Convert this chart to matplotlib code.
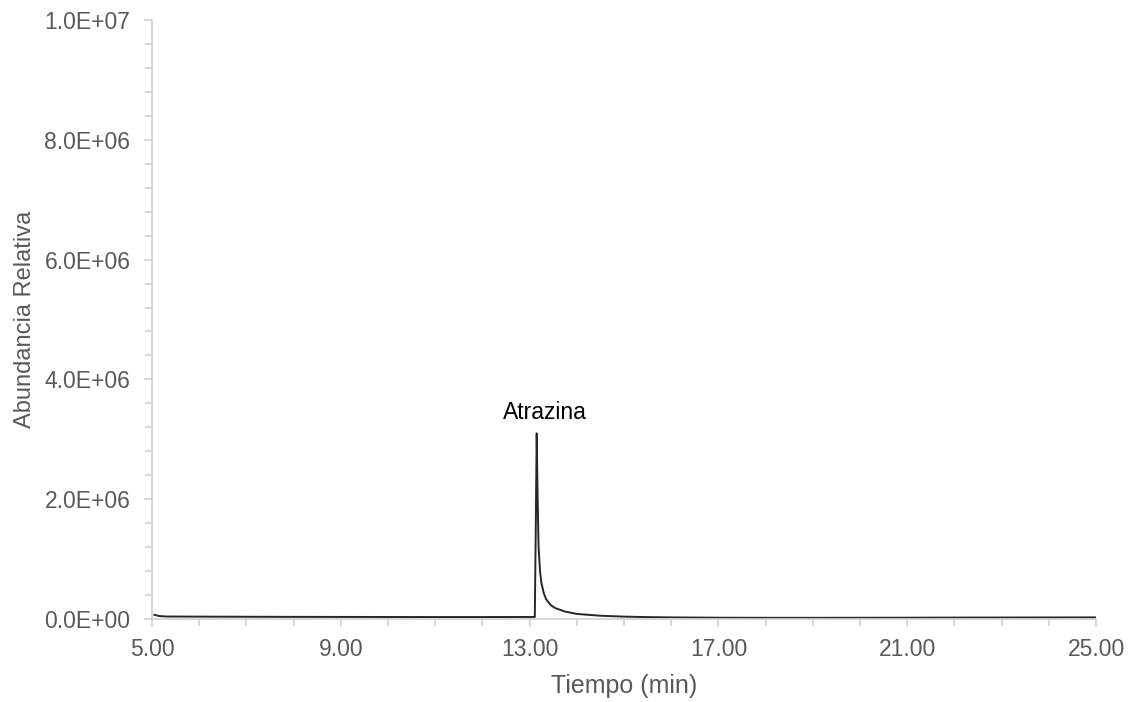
import matplotlib
matplotlib.use("Agg")
import matplotlib.pyplot as plt
from matplotlib.ticker import FixedLocator, MultipleLocator, FuncFormatter

# chromatogram trace (time in min, abundance)
tiempo = [5.05, 5.15, 5.3, 6.0, 7.0, 8.0, 9.0, 10.0, 11.0, 12.0, 12.9,
          13.11, 13.13, 13.15, 13.17, 13.19, 13.22, 13.25, 13.30, 13.35,
          13.45, 13.55, 13.75, 14.0, 14.5, 15.0, 15.5, 16.0, 17.0, 18.0,
          19.0, 20.0, 21.0, 22.0, 23.0, 24.0, 25.0]
abundancia = [7.0e4, 5.0e4, 4.2e4, 4.0e4, 3.8e4, 3.6e4, 3.5e4, 3.4e4, 3.3e4,
              3.3e4, 3.4e4, 3.4e4, 1.5e6, 3.1e6, 2.0e6, 1.2e6, 8.0e5, 6.0e5,
              4.3e5, 3.3e5, 2.3e5, 1.8e5, 1.25e5, 8.5e4, 5.5e4, 4.0e4, 3.2e4,
              2.7e4, 2.2e4, 2.0e4, 2.0e4, 2.1e4, 2.2e4, 2.4e4, 2.5e4, 2.6e4,
              2.7e4]

pico_t = 13.15
pico_a = 3.1e6
pico_nombre = "Atrazina"

x_ticks = [5, 9, 13, 17, 21, 25]

plt.rcParams['font.family'] = ['Liberation Sans', 'DejaVu Sans']
gris = '#595959'
eje = '#d0d0d0'

fig = plt.figure(figsize=(11.32, 7.02), dpi=100)
ax = fig.add_axes([0.1343, 0.1182, 0.8339, 0.8533])

ax.plot(tiempo, abundancia, color='#262626', lw=1.4)
ax.annotate(pico_nombre, (pico_t, pico_a), xytext=(6, 7), textcoords='offset points',
            ha='center', va='bottom', fontsize=16.5, color='black')

ax.set_xlim(5, 25)
ax.set_ylim(0, 1.0e7)
ax.xaxis.set_major_locator(FixedLocator(x_ticks))
ax.xaxis.set_minor_locator(MultipleLocator(1))
ax.yaxis.set_major_locator(MultipleLocator(2e6))
ax.yaxis.set_minor_locator(MultipleLocator(4e5))
ax.xaxis.set_major_formatter(FuncFormatter(lambda v, p: f"{v:.2f}"))
ax.yaxis.set_major_formatter(FuncFormatter(lambda v, p: f"{v:.1E}"))

for s in ['top', 'right']:
    ax.spines[s].set_visible(False)
for s in ['left', 'bottom']:
    ax.spines[s].set_color(eje)
    ax.spines[s].set_linewidth(1.2)

ax.tick_params(which='both', direction='out', color=eje, width=1.2, labelcolor=gris,
               labelsize=16.5)
ax.tick_params(which='major', length=6)
ax.tick_params(axis='y', which='major', pad=9.5)
ax.tick_params(axis='x', which='major', pad=8)
ax.tick_params(which='minor', length=5)

ax.set_xlabel("Tiempo (min)", fontsize=18, color=gris, labelpad=9)
ax.set_ylabel("Abundancia Relativa", fontsize=17, color=gris, labelpad=6)

fig.savefig("out.png", dpi=100)
